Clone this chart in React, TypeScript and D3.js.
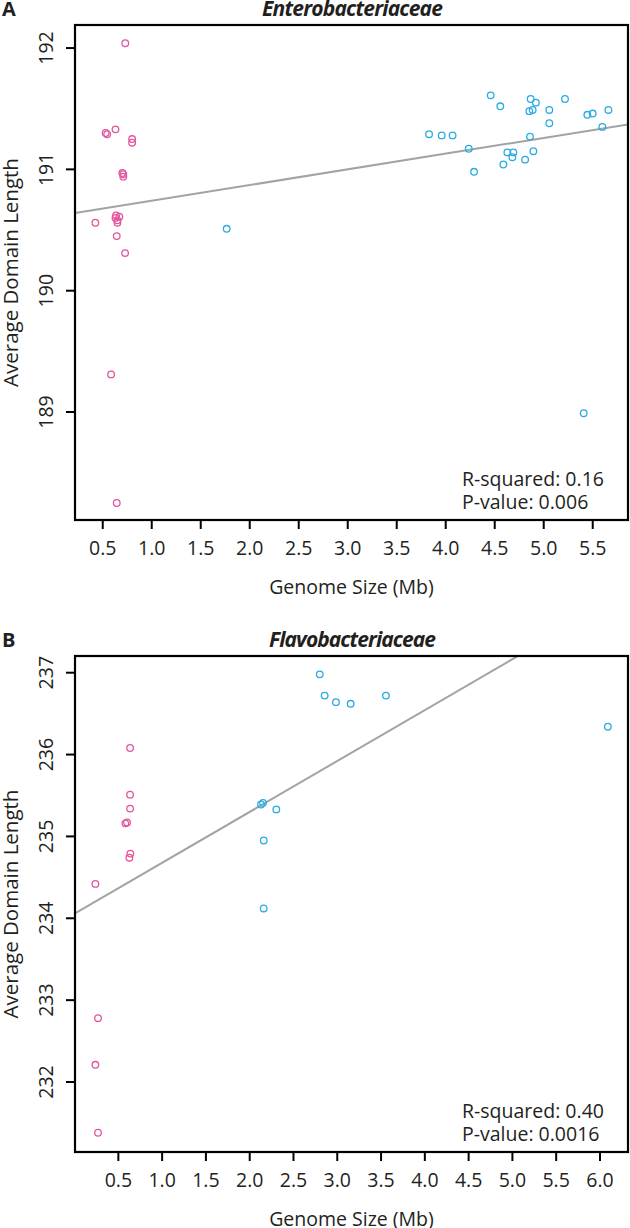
import React from 'react';
import * as d3 from 'd3';

const FONT = "'Open Sans', 'Noto Sans', sans-serif";
const PINK = '#E2559E';
const BLUE = '#29ABE2';
const LINE = '#A3A3A3';

// Panel A – Enterobacteriaceae
const enteroPinkX = [0.73, 0.53, 0.545, 0.63, 0.80, 0.80, 0.70, 0.71, 0.71, 0.425, 0.636, 0.67, 0.65, 0.65, 0.63, 0.643, 0.728, 0.585, 0.643];
const enteroPinkY = [192.04, 191.30, 191.29, 191.33, 191.25, 191.22, 190.97, 190.96, 190.94, 190.56, 190.62, 190.61, 190.58, 190.56, 190.60, 190.45, 190.31, 189.31, 188.25];
const enteroBlueX = [1.765, 4.459, 4.557, 4.867, 4.92, 4.853, 4.887, 5.057, 5.217, 5.445, 5.50, 5.66, 5.057, 5.598, 3.83, 3.959, 4.07, 4.86, 4.235, 4.629, 4.69, 4.68, 4.894, 4.81, 4.588, 4.289, 5.408];
const enteroBlueY = [190.51, 191.61, 191.52, 191.58, 191.55, 191.48, 191.49, 191.49, 191.58, 191.45, 191.46, 191.49, 191.38, 191.35, 191.29, 191.28, 191.28, 191.27, 191.17, 191.14, 191.14, 191.10, 191.15, 191.08, 191.04, 190.98, 188.99];
const enteroXTicks = [0.5, 1.0, 1.5, 2.0, 2.5, 3.0, 3.5, 4.0, 4.5, 5.0, 5.5];
const enteroYTicks = [189, 190, 191, 192];
const enteroFit = [190.612, 0.1294]; // intercept, slope
const enteroStats = ['R-squared: 0.16', 'P-value: 0.006'];

// Panel B – Flavobacteriaceae
const flavoPinkX = [0.634, 0.634, 0.634, 0.58, 0.60, 0.637, 0.626, 0.238, 0.268, 0.238, 0.268];
const flavoPinkY = [236.08, 235.51, 235.34, 235.16, 235.17, 234.79, 234.74, 234.42, 232.78, 232.21, 231.38];
const flavoBlueX = [2.80, 2.856, 2.985, 3.153, 3.556, 6.09, 2.129, 2.152, 2.304, 2.16, 2.16];
const flavoBlueY = [236.98, 236.72, 236.64, 236.62, 236.72, 236.34, 235.39, 235.41, 235.33, 234.95, 234.12];
const flavoXTicks = [0.5, 1.0, 1.5, 2.0, 2.5, 3.0, 3.5, 4.0, 4.5, 5.0, 5.5, 6.0];
const flavoYTicks = [232, 233, 234, 235, 236, 237];
const flavoFit = [234.056, 0.6218];
const flavoStats = ['R-squared: 0.40', 'P-value: 0.0016'];

const LEFT = 75;
const RIGHT = 628;

function Panel(props: any) {
  const { id, letter, title, titleWidth, top, bottom, xDomain, yDomain, xTicks, yTicks, pinkX, pinkY, blueX, blueY, fit, stats } = props;
  const x = d3.scaleLinear().domain(xDomain).range([LEFT, RIGHT]);
  const y = d3.scaleLinear().domain(yDomain).range([bottom, top]);
  const fitLine = d3.line<number>().x((d) => x(d)).y((d) => y(fit[0] + fit[1] * d));
  const cx = (LEFT + RIGHT) / 2;
  const cy = (top + bottom) / 2;
  return (
    <g fontFamily={FONT} fill="#231F20">
      <clipPath id={id}>
        <rect x={LEFT} y={top} width={RIGHT - LEFT} height={bottom - top} />
      </clipPath>
      <text x={2} y={top - 9} fontSize={20} fontWeight="bold">{letter}</text>
      <text x={cx + 1 - titleWidth / 2} y={top - 9} fontSize={21} fontWeight="bold" fontStyle="italic"
        textLength={titleWidth} lengthAdjust="spacing">{title}</text>
      <path d={fitLine(xDomain) || ''} stroke={LINE} strokeWidth={2} fill="none" clipPath={`url(#${id})`} />
      {pinkX.map((v: number, i: number) => (
        <circle key={'p' + i} cx={x(v)} cy={y(pinkY[i])} r={3.3} fill="none" stroke={PINK} strokeWidth={1.3} />
      ))}
      {blueX.map((v: number, i: number) => (
        <circle key={'b' + i} cx={x(v)} cy={y(blueY[i])} r={3.3} fill="none" stroke={BLUE} strokeWidth={1.3} />
      ))}
      <rect x={LEFT} y={top} width={RIGHT - LEFT} height={bottom - top} fill="none" stroke="#000" strokeWidth={2.2} />
      {xTicks.map((t: number) => (
        <g key={'xt' + t}>
          <line x1={x(t)} x2={x(t)} y1={bottom} y2={bottom + 9} stroke="#000" strokeWidth={2} />
          <text x={x(t)} y={bottom + 35} fontSize={19.5} textAnchor="middle">{t.toFixed(1)}</text>
        </g>
      ))}
      {yTicks.map((t: number) => (
        <g key={'yt' + t}>
          <line x1={LEFT - 9} x2={LEFT} y1={y(t)} y2={y(t)} stroke="#000" strokeWidth={2} />
          <text transform={`translate(53,${y(t)}) rotate(-90)`} fontSize={19.5} textAnchor="middle">{t}</text>
        </g>
      ))}
      <text x={cx} y={bottom + 74} fontSize={19.5} textAnchor="middle">Genome Size (Mb)</text>
      <text transform={`translate(18,${cy}) rotate(-90)`} fontSize={20.5} textAnchor="middle">Average Domain Length</text>
      <text x={462} y={bottom - 34} fontSize={19.5}>{stats[0]}</text>
      <text x={462} y={bottom - 11} fontSize={19.5}>{stats[1]}</text>
    </g>
  );
}

export default function App() {
  return (
    <div style={{ position: 'absolute', left: 0, top: 0 }}>
      <svg width={630} height={1228} style={{ display: 'block', background: '#fff' }}>
        <Panel
          id="clipA" letter="A" title="Enterobacteriaceae" titleWidth={181} top={25} bottom={520}
          xDomain={[0.217, 5.86]} yDomain={[188.11, 192.19]}
          xTicks={enteroXTicks} yTicks={enteroYTicks}
          pinkX={enteroPinkX} pinkY={enteroPinkY} blueX={enteroBlueX} blueY={enteroBlueY}
          fit={enteroFit} stats={enteroStats}
        />
        <Panel
          id="clipB" letter="B" title="Flavobacteriaceae" titleWidth={167} top={656} bottom={1152}
          xDomain={[0.005, 6.32]} yDomain={[231.145, 237.204]}
          xTicks={flavoXTicks} yTicks={flavoYTicks}
          pinkX={flavoPinkX} pinkY={flavoPinkY} blueX={flavoBlueX} blueY={flavoBlueY}
          fit={flavoFit} stats={flavoStats}
        />
      </svg>
    </div>
  );
}
